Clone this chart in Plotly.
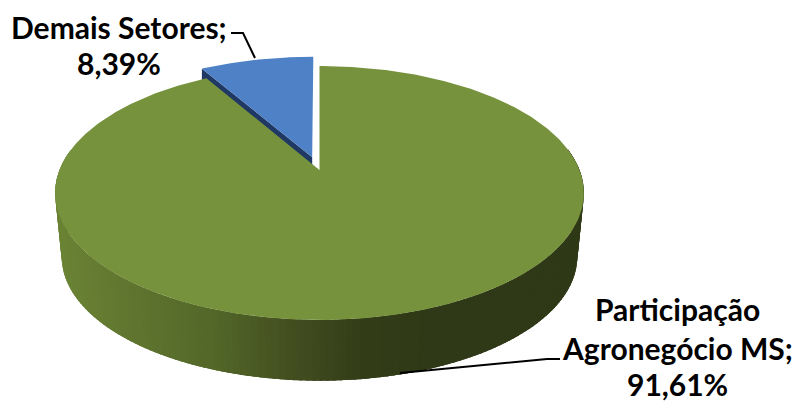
import numpy as np
import plotly.graph_objects as go

categories = ["Participação Agronegócio MS", "Demais Setores"]
values = [91.61, 8.39]
label_lines = [["Participação", "Agronegócio MS;", "91,61%"], ["Demais Setores;", "8,39%"]]

GREEN, BLUE, BLUE_DARK = "#76923c", "#4f81c7", "#1f3864"
CX, V0, A, B, K = 319.5, 170.0, 260.0, 122.8, 0.181     # top plane projection
V0_LOW, SCALE_LOW = 234.5, 0.975                         # bottom plane projection
EXPLODE = 0.11


def project(theta, r=1.0, off=(0.0, 0.0), low=False):
    X = r * np.sin(theta) + off[0]
    Y = r * np.cos(theta) + off[1]
    w = 1 + K * Y
    if low:
        return CX + SCALE_LOW * A * X / w, V0_LOW - SCALE_LOW * B * Y / w
    return CX + A * X / w, V0 - B * Y / w


fracs = np.cumsum([0] + values) / sum(values) * 2 * np.pi
fig = go.Figure()


def poly(x, y, color):
    fig.add_trace(go.Scatter(x=list(x), y=list(y), mode="lines", fill="toself", fillcolor=color,
                             line=dict(color=color, width=0), hoverinfo="skip", showlegend=False))


# side wall of the big slice, shaded from left to right (painted with overlap to hide seams)
stops_x = [56, 130, 200, 290, 360, 420, 584]
stops_r = [0x6b, 0x60, 0x55, 0x43, 0x33, 0x30, 0x2f]
stops_g = [0x84, 0x75, 0x6a, 0x4e, 0x3d, 0x3a, 0x39]
stops_b = [0x35, 0x2f, 0x2a, 0x20, 0x18, 0x17, 0x17]
edges = np.radians(np.linspace(280, 80, 161))
for t0 in edges[:-1]:
    ts = np.linspace(t0, max(t0 - np.radians(3), edges[-1]), 6)
    xt, yt = project(ts)
    xb, yb = project(ts, low=True)
    m = xt[0]
    c = "rgb(%d,%d,%d)" % (np.interp(m, stops_x, stops_r), np.interp(m, stops_x, stops_g),
                           np.interp(m, stops_x, stops_b))
    poly(np.r_[xt, xb[::-1], xt[0]], np.r_[yt, yb[::-1], yt[0]], c)

# exploded slice: offset along its bisector
mid = (fracs[1] + fracs[2]) / 2
off = (EXPLODE * np.sin(mid), EXPLODE * np.cos(mid))

# radial wall of the small slice
ax, ay = project(np.array([fracs[1]]), r=0.0, off=off)
ex, ey = project(np.array([fracs[1]]), off=off)
poly([ax[0], ex[0], ex[0], ax[0], ax[0]], [ay[0], ey[0], ey[0] + 40, ay[0] + 40, ay[0]], BLUE_DARK)

# top of the big slice
th = np.linspace(fracs[0], fracs[1], 400)
x, y = project(th)
ax0, ay0 = project(np.array([0.0]), r=0.0)
poly(np.r_[ax0, x, ax0], np.r_[ay0, y, ay0], GREEN)

# top of the small slice
th = np.linspace(fracs[1], fracs[2], 80)
x, y = project(th, off=off)
poly(np.r_[ax, x, ax], np.r_[ay, y, ay], BLUE)

# leader lines
for lx, ly in [([255, 243, 231], [58, 33, 33]), ([400, 547, 560], [373, 359, 359])]:
    fig.add_trace(go.Scatter(x=lx, y=ly, mode="lines", line=dict(color="black", width=2),
                             hoverinfo="skip", showlegend=False))

annotations = []
for lines, cxl, ys in [(label_lines[0], 677, [309, 348, 384]), (label_lines[1], 119, [27, 63])]:
    for s, yy in zip(lines, ys):
        annotations.append(dict(x=cxl, y=yy, xref="x", yref="y", text=f"<b>{s}</b>", showarrow=False,
                                xanchor="center", yanchor="middle",
                                font=dict(family="Lato", size=30, color="black")))

fig.update_layout(
    width=794, height=403, margin=dict(l=0, r=0, t=0, b=0),
    paper_bgcolor="white", plot_bgcolor="white", showlegend=False,
    xaxis=dict(range=[0, 794], visible=False, fixedrange=True),
    yaxis=dict(range=[403, 0], visible=False, fixedrange=True),
    annotations=annotations,
)
fig.write_html("out.html", config={"displayModeBar": False},
               post_script="document.body.style.margin='0';document.body.style.overflow='hidden';")
